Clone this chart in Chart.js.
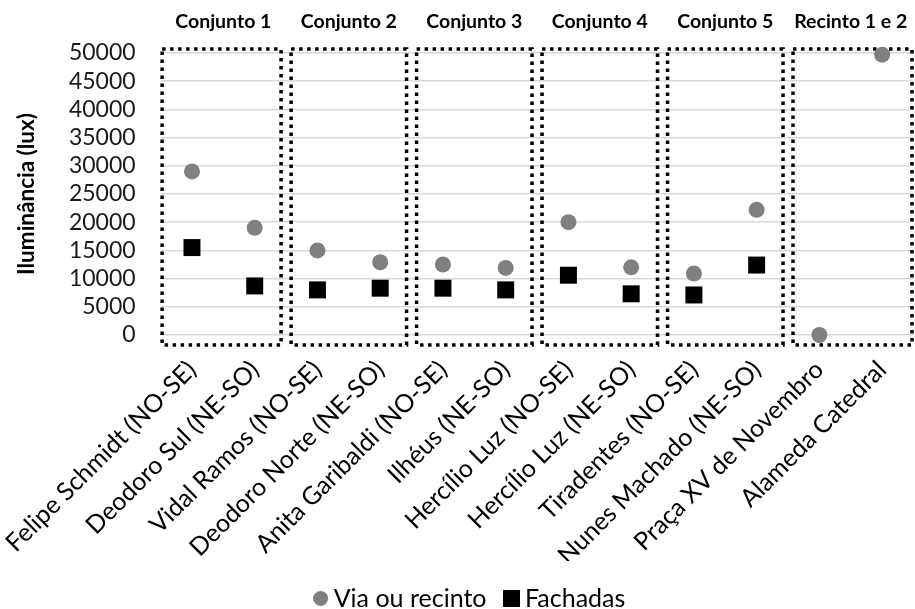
<!DOCTYPE html>
<html>
<head>
<meta charset="utf-8">
<script src="https://cdn.jsdelivr.net/npm/chart.js@4/dist/chart.umd.min.js"></script>
<style>
  html, body { margin: 0; padding: 0; background: #fff; }
  #wrap { width: 915px; height: 609px; }
</style>
</head>
<body>
<div id="wrap"><canvas id="c" width="915" height="609"></canvas></div>
<script>
// Street / square names along the x axis
const categories = [
  'Felipe Schmidt (NO-SE)', 'Deodoro Sul (NE-SO)',
  'Vidal Ramos (NO-SE)', 'Deodoro Norte (NE-SO)',
  'Anita Garibaldi (NO-SE)', 'Ilhéus (NE-SO)',
  'Hercílio Luz (NO-SE)', 'Hercílio Luz (NE-SO)',
  'Tiradentes (NO-SE)', 'Nunes Machado (NE-SO)',
  'Praça XV de Novembro', 'Alameda Catedral'
];

// Illuminance (lux)
const viaOuRecinto = [29000, 19000, 15000, 12900, 12500, 11900, 20000, 12000, 10900, 22200, 0, 49700];
const fachadas     = [15500, 8700, 8000, 8300, 8300, 8000, 10600, 7300, 7100, 12400, null, null];

// Group names, each covering two consecutive categories
const groups = ['Conjunto 1', 'Conjunto 2', 'Conjunto 3', 'Conjunto 4', 'Conjunto 5', 'Recinto 1 e 2'];

const yTicks = { min: 0, max: 50000, step: 5000 };

const FONT = 'Lato, "Open Sans", sans-serif';
Chart.defaults.font.family = FONT;
Chart.defaults.color = '#1a1a1a';

// Legend markers drawn on small canvases so each keeps its own size
function markerCanvas(kind, size, color) {
  const cv = document.createElement('canvas');
  cv.width = size; cv.height = size;
  const g = cv.getContext('2d');
  g.fillStyle = color;
  if (kind === 'circle') {
    g.beginPath(); g.arc(size / 2, size / 2, size / 2, 0, Math.PI * 2); g.fill();
  } else {
    g.fillRect(0, 0, size, size);
  }
  return cv;
}
const legendCircle = markerCanvas('circle', 15, '#808080');
const legendSquare = markerCanvas('rect', 17, '#000000');

// Dotted frames around each group plus the group captions above them
const groupFrames = {
  id: 'groupFrames',
  beforeDatasetsDraw(chart) {
    const { ctx, scales: { x, y } } = chart;
    const half = (x.getPixelForValue(1) - x.getPixelForValue(0)) / 2;
    const top = y.getPixelForValue(yTicks.max) - 4;
    const bottom = y.getPixelForValue(yTicks.min) + 10;
    ctx.save();
    ctx.strokeStyle = '#000';
    ctx.lineWidth = 3.5;
    ctx.setLineDash([3.5, 4.5]);
    groups.forEach((g, k) => {
      let left = x.getPixelForValue(2 * k) - half + 5;
      let right = x.getPixelForValue(2 * k + 1) + half - 5;
      if (k === 0) left = x.getPixelForValue(0) - half + 1.5;
      if (k === groups.length - 1) right = x.getPixelForValue(2 * k + 1) + half - 1.5;
      ctx.strokeRect(left, top, right - left, bottom - top);
    });
    ctx.restore();
  },
  afterDraw(chart) {
    const { ctx, scales: { x } } = chart;
    ctx.save();
    ctx.font = 'bold 19.5px ' + FONT;
    ctx.fillStyle = '#000';
    ctx.textAlign = 'center';
    ctx.textBaseline = 'middle';
    groups.forEach((g, k) => {
      const cx = (x.getPixelForValue(2 * k) + x.getPixelForValue(2 * k + 1)) / 2;
      ctx.fillText(g, cx, 22);
    });
    ctx.restore();
  }
};

new Chart(document.getElementById('c'), {
  type: 'line',
  data: {
    labels: categories,
    datasets: [
      {
        label: 'Via ou recinto',
        data: viaOuRecinto,
        showLine: false,
        pointStyle: 'circle',
        pointRadius: 8,
        pointHoverRadius: 8,
        pointBackgroundColor: '#808080',
        pointBorderWidth: 0,
        borderColor: '#808080',
        backgroundColor: '#808080',
        clip: false
      },
      {
        label: 'Fachadas',
        data: fachadas,
        showLine: false,
        pointStyle: 'rect',
        pointRadius: 12,
        pointHoverRadius: 12,
        pointBackgroundColor: '#000',
        pointBorderWidth: 0,
        borderColor: '#000',
        backgroundColor: '#000',
        clip: false
      }
    ]
  },
  options: {
    responsive: false,
    animation: false,
    events: [],
    layout: { autoPadding: false, padding: { top: 53, left: 32, right: 1.5, bottom: -12 } },
    plugins: {
      tooltip: { enabled: false },
      legend: {
        position: 'bottom',
        labels: {
          usePointStyle: true,
          boxWidth: 1,
          boxHeight: 17,
          padding: 25,
          color: '#000',
          font: { size: 25 },
          generateLabels(chart) {
            return chart.data.datasets.map((ds, i) => ({
              text: ds.label,
              datasetIndex: i,
              pointStyle: i === 0 ? legendCircle : legendSquare,
              fillStyle: ds.backgroundColor,
              strokeStyle: ds.backgroundColor,
              lineWidth: 0,
              hidden: false,
              fontColor: '#000'
            }));
          }
        }
      }
    },
    scales: {
      x: {
        offset: true,
        grid: { display: false, drawTicks: false },
        border: { display: false },
        ticks: {
          autoSkip: false,
          maxRotation: 45,
          minRotation: 45,
          padding: 20,
          color: '#000',
          font: { size: 25 }
        },
        afterFit(scale) {
          scale.height = 226;
          scale.paddingLeft = 0;
          scale.paddingRight = 0;
        }
      },
      y: {
        min: yTicks.min,
        max: yTicks.max,
        grid: { color: '#d9d9d9', lineWidth: 1.5, drawTicks: false },
        border: { display: false },
        ticks: {
          autoSkip: false,
          stepSize: yTicks.step,
          padding: 25,
          color: '#1a1a1a',
          font: { size: 23 },
          callback: v => String(v)
        },
        title: {
          display: true,
          text: 'Iluminância (lux)',
          color: '#000',
          font: { size: 22.5, weight: 'bold' },
          padding: { top: -19, bottom: 0 }
        },
        afterFit(scale) { scale.width = 128.6; }
      }
    }
  },
  plugins: [groupFrames]
});
</script>
</body>
</html>
